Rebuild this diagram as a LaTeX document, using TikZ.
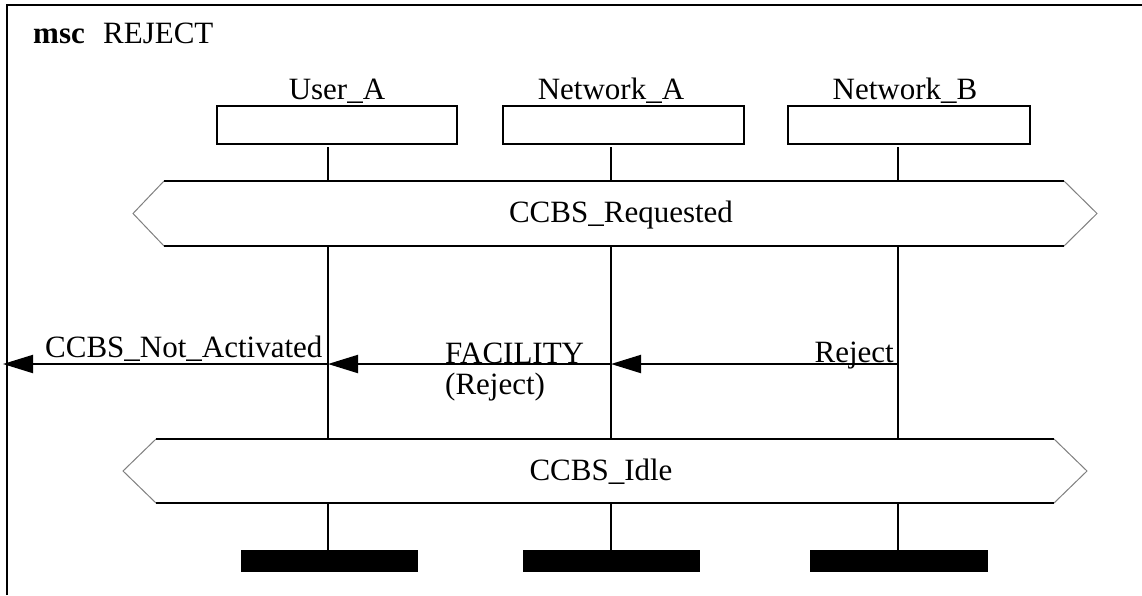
\documentclass[tikz,border=0pt]{standalone}
\usepackage{fontspec}
\setmainfont{Liberation Serif}
\usetikzlibrary{arrows.meta}

\tikzset{
  lbl/.style={inner sep=0pt, font=\fontsize{31}{32}\selectfont},
  life/.style={line width=2pt},
  msg/.style={line width=2pt, -{Triangle[length=30pt,width=18pt]}},
  cond/.style={fill=white, draw=gray, line width=1pt},
  instbox/.style={draw, line width=2pt},
  endbar/.style={fill=black},
}

\begin{document}
\begin{tikzpicture}[x=1pt, y=-1pt]
    \useasboundingbox (0,0) rectangle (1142,595);

    % frame and heading
    \draw[line width=2pt] (7,595) -- (7,4.5) -- (1142,4.5);
    \node[lbl, anchor=base west] (kw) at (33,43) {\textbf{msc}};
    \node[lbl, anchor=base west] (mscname) at (103,43) {REJECT};

    % instances
    \draw[instbox] (217,106) rectangle (457,144);
    \draw[instbox] (503,106) rectangle (744,144);
    \draw[instbox] (788,106) rectangle (1030,144);
    \node[lbl, anchor=base] (usera) at (337,99) {User\_A};
    \node[lbl, anchor=base] (neta) at (611,99) {Network\_A};
    \node[lbl, anchor=base] (netb) at (905,99) {Network\_B};

    % lifelines
    \foreach \n/\x in {ua/328, na/611, nb/898} {
      \coordinate (\n-a) at (\x,147);
      \coordinate (\n-b) at (\x,181);
      \coordinate (\n-c) at (\x,246);
      \coordinate (\n-d) at (\x,439);
      \coordinate (\n-e) at (\x,503);
      \coordinate (\n-f) at (\x,550);
      \coordinate (\n-msg) at (\x,364);
      \draw[life] (\n-a) -- (\n-b) (\n-c) -- (\n-d) (\n-e) -- (\n-f);
    }

    % conditions
    \draw[cond] (164,181) -- (133,213.5) -- (164,246) -- (1064,246) -- (1097,213.5) -- (1064,181) -- cycle;
    \draw[life] (164,181) -- (1064,181) (164,246) -- (1064,246);
    \node[lbl, anchor=base] (req) at (621,222) {CCBS\_Requested};

    \draw[cond] (156,439) -- (123,471) -- (156,503) -- (1054,503) -- (1087,471) -- (1054,439) -- cycle;
    \draw[life] (156,439) -- (1054,439) (156,503) -- (1054,503);
    \node[lbl, anchor=base] (idle) at (601,480) {CCBS\_Idle};

    % messages
    \coordinate (env) at (3,364);
    \draw[msg] (nb-msg) -- (na-msg);
    \draw[msg] (na-msg) -- (ua-msg);
    \draw[msg] (ua-msg) -- (env);
    \node[lbl, anchor=base east] (rej) at (894,362) {Reject};
    \node[lbl, anchor=base west] (fac) at (445,363) {FACILITY};
    \node[lbl, anchor=base west] (facrej) at (445,394) {(Reject)};
    \node[lbl, anchor=base west] (notact) at (45,357) {CCBS\_Not\_Activated};

    % instance ends
    \fill[endbar] (241,550) rectangle (418,572);
    \fill[endbar] (523,550) rectangle (700,572);
    \fill[endbar] (810,550) rectangle (988,572);
\end{tikzpicture}
\end{document}
